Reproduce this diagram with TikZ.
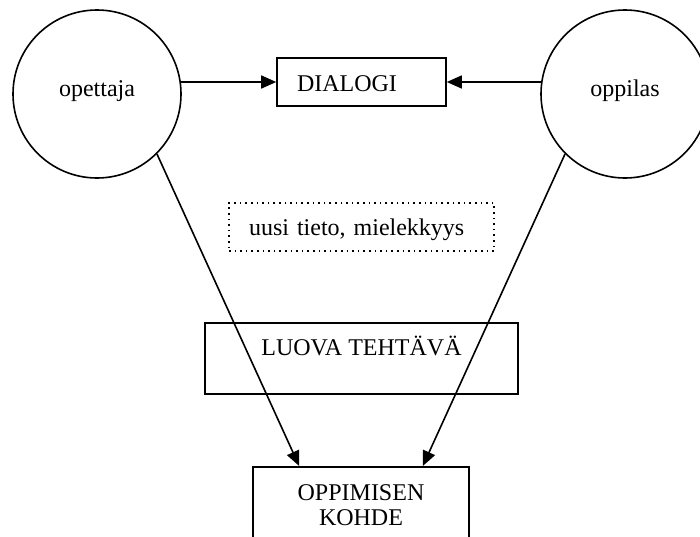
\documentclass[tikz,border=0pt]{standalone}
\usepackage{fontspec}
\setmainfont{Liberation Serif}
\usetikzlibrary{arrows.meta}
\begin{document}
\begin{tikzpicture}[x=0.5pt, y=-0.5pt,
    every node/.style={font=\fontsize{12}{12.5}\selectfont},
    party/.style={draw, circle, minimum size=84pt, inner sep=0pt, line width=0.8pt, text height=8pt, text depth=5.4pt},
    textbox/.style={draw, rectangle, line width=0.8pt, inner sep=0pt},
    arrow/.style={-{Triangle[length=7.5pt,width=6.5pt]}, line width=0.8pt}]
    \useasboundingbox (0,0) rectangle (700,536);

    % Participants
    \node[party] (opettaja) at (97,94) {opettaja};
    \node[party] (oppilas) at (625,94) {oppilas};

    % Boxes
    \node[textbox, minimum width=84.5pt, text height=16.5pt, text depth=7.5pt, text width=64.5pt, align=left, inner xsep=10pt] (dialogi) at (361.5,82) {DIALOGI};
    \node[textbox, dotted, line width=0.6pt, minimum width=132.5pt, text height=16pt, text depth=8pt, text width=112.5pt, align=left, inner xsep=10pt] (tieto) at (361.5,227) {uusi tieto, mielekkyys};
    \node[textbox, minimum width=156.5pt, text height=16pt, text depth=19.5pt] (luova) at (361.5,358.5) {LUOVA TEHTÄVÄ};
    \node[textbox, anchor=north, minimum width=108pt, text width=108pt, align=center, inner ysep=9pt] (kohde) at (361,466) {OPPIMISEN\\KOHDE};

    % Arrows
    \draw[arrow] (dialogi.west -| opettaja.8) -- (dialogi.west);
    \draw[arrow] (dialogi.east -| oppilas.172) -- (dialogi.east);
    \draw[arrow] (opettaja.-45) -- ([xshift=23.5pt]kohde.north west);
    \draw[arrow] (oppilas.-135) -- ([xshift=-23.5pt]kohde.north east);
\end{tikzpicture}
\end{document}
